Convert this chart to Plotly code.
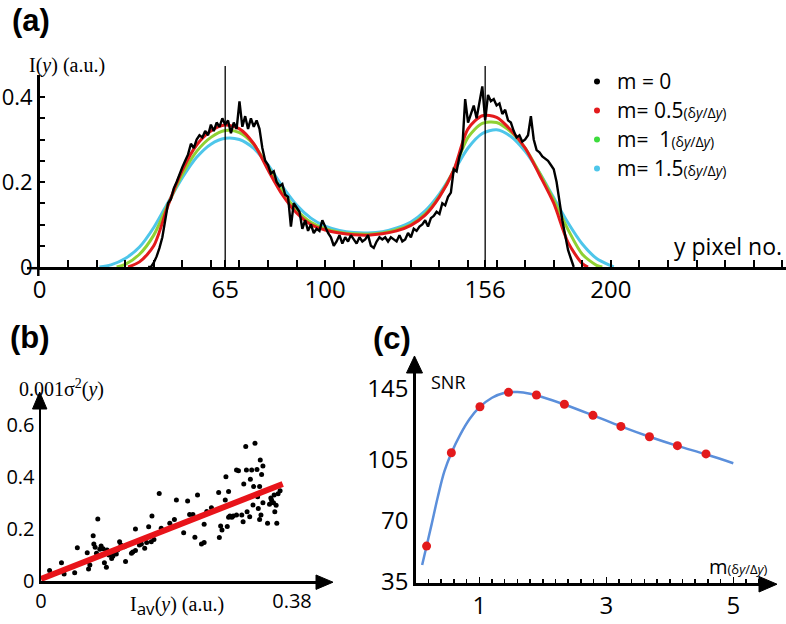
import plotly.graph_objects as go

W, H = 786, 624

# ---------------- panel (a) data ----------------
profile_x = list(range(38, 188))
profile_i = [
    0.0, 0.0, 0.01, 0.025, 0.045, 0.07, 0.11, 0.15, 0.16, 0.185,
    0.2, 0.22, 0.235, 0.25, 0.265, 0.29, 0.28, 0.3, 0.31, 0.305,
    0.32, 0.31, 0.335, 0.32, 0.34, 0.33, 0.35, 0.335, 0.345, 0.315,
    0.34, 0.325, 0.39, 0.33, 0.355, 0.325, 0.35, 0.33, 0.345, 0.325,
    0.28, 0.25, 0.24, 0.22, 0.225, 0.2, 0.19, 0.195, 0.17, 0.165,
    0.095, 0.15, 0.14, 0.13, 0.09, 0.11, 0.085, 0.1, 0.08, 0.09,
    0.085, 0.11, 0.095, 0.08, 0.07, 0.05, 0.06, 0.075, 0.055, 0.07,
    0.06, 0.075, 0.065, 0.055, 0.07, 0.06, 0.065, 0.075, 0.05, 0.045,
    0.06, 0.07, 0.065, 0.07, 0.06, 0.07, 0.065, 0.06, 0.075, 0.06,
    0.065, 0.08, 0.07, 0.09, 0.085, 0.095, 0.1, 0.11, 0.095, 0.115,
    0.12, 0.13, 0.125, 0.15, 0.145, 0.165, 0.175, 0.23, 0.225, 0.26,
    0.28, 0.395, 0.34, 0.36, 0.38, 0.35, 0.385, 0.425, 0.345, 0.405,
    0.39, 0.395, 0.38, 0.385, 0.36, 0.37, 0.345, 0.34, 0.32, 0.305,
    0.31, 0.295, 0.3, 0.31, 0.355, 0.3, 0.275, 0.27, 0.26, 0.255,
    0.25, 0.24, 0.23, 0.2, 0.15, 0.11, 0.075, 0.04, 0.02, 0.0,
]

red_x = [31, 35, 40, 45, 50, 55, 60, 65, 70, 75, 80, 85, 90, 95, 100, 105, 110, 115, 120,
         125, 130, 135, 140, 145, 150, 155, 160, 165, 170, 175, 180, 185, 190, 192]
red_y = [0, 0.012, 0.05, 0.145, 0.228, 0.287, 0.32, 0.334, 0.325, 0.29, 0.228, 0.17, 0.127,
         0.1, 0.087, 0.08, 0.076, 0.075, 0.078, 0.085, 0.098, 0.122, 0.165, 0.228, 0.325,
         0.356, 0.352, 0.322, 0.28, 0.217, 0.15, 0.058, 0.008, 0]

green_x = [27, 30, 35, 40, 45, 50, 55, 60, 65, 70, 75, 80, 85, 90, 95, 100, 105, 110, 115, 120,
           125, 130, 135, 140, 145, 150, 155, 160, 165, 170, 175, 180, 185, 190, 195, 197]
green_y = [0, 0.006, 0.03, 0.075, 0.148, 0.218, 0.272, 0.305, 0.321, 0.316, 0.288, 0.235,
           0.178, 0.134, 0.105, 0.09, 0.082, 0.078, 0.077, 0.08, 0.088, 0.1, 0.125, 0.167,
           0.228, 0.305, 0.338, 0.34, 0.318, 0.28, 0.222, 0.158, 0.088, 0.03, 0.004, 0]

cyan_x = [21, 25, 30, 35, 40, 45, 50, 55, 60, 65, 70, 75, 80, 85, 90, 95, 100, 105, 110, 115,
          120, 125, 130, 135, 140, 145, 150, 155, 160, 165, 170, 175, 180, 185, 190, 195, 200, 201]
cyan_y = [0, 0.005, 0.02, 0.047, 0.093, 0.152, 0.21, 0.258, 0.289, 0.303, 0.3, 0.279, 0.24,
          0.19, 0.146, 0.115, 0.096, 0.086, 0.081, 0.08, 0.083, 0.092, 0.106, 0.132, 0.172,
          0.225, 0.28, 0.314, 0.323, 0.307, 0.272, 0.222, 0.163, 0.104, 0.054, 0.02, 0.003, 0]

a_tick_vals = [0, 65, 100, 156, 200]
a_tick_text = ["0", "65", "100", "156", "200"]
a_ytick_vals = [0, 0.2, 0.4]
a_ytick_text = ["0", "0.2", "0.4"]
peak_positions = [65, 156]

SMALL = "<span style='font-size:14px'>(δ<i>y</i>/Δ<i>y</i>)</span>"
legend_names = [
    "<span style='font-size:21px'>m = 0</span>",
    "<span style='font-size:21px'>m= 0.5</span>" + SMALL,
    "<span style='font-size:21px'>m=\u00a0\u00a01</span>" + SMALL,
    "<span style='font-size:21px'>m= 1.5</span>" + SMALL,
]

# ---------------- panel (b) data ----------------
var_x = [0.013, 0.031, 0.035, 0.051, 0.055, 0.070, 0.071, 0.072, 0.074, 0.079, 0.080, 0.082,
         0.084, 0.086, 0.089, 0.091, 0.094, 0.096, 0.099, 0.100, 0.103, 0.107, 0.109, 0.111,
         0.114, 0.116, 0.119, 0.121, 0.126, 0.128, 0.137, 0.139, 0.143, 0.143, 0.149, 0.152,
         0.157, 0.160, 0.163, 0.167, 0.168, 0.171, 0.179, 0.182, 0.183, 0.195, 0.202, 0.205,
         0.216, 0.222, 0.225, 0.230, 0.233, 0.237, 0.243, 0.247, 0.247, 0.251, 0.258, 0.269,
         0.270, 0.272, 0.274, 0.279, 0.280, 0.282, 0.284, 0.284, 0.286, 0.289, 0.291, 0.296,
         0.296, 0.299, 0.304, 0.306, 0.307, 0.310, 0.311, 0.312, 0.316, 0.317, 0.319, 0.321,
         0.322, 0.324, 0.327, 0.328, 0.329, 0.331, 0.331, 0.332, 0.333, 0.334, 0.336, 0.336,
         0.343, 0.346, 0.348, 0.349, 0.352, 0.353, 0.354, 0.356, 0.357, 0.359, 0.362]
var_y = [0.040, 0.070, 0.027, 0.032, 0.128, 0.109, 0.075, 0.046, 0.062, 0.174, 0.142, 0.130,
         0.107, 0.238, 0.122, 0.135, 0.124, 0.070, 0.053, 0.119, 0.100, 0.087, 0.096, 0.110,
         0.104, 0.119, 0.151, 0.138, 0.132, 0.075, 0.107, 0.112, 0.117, 0.200, 0.138, 0.142,
         0.126, 0.148, 0.209, 0.151, 0.250, 0.160, 0.337, 0.203, 0.190, 0.222, 0.237, 0.312,
         0.186, 0.308, 0.256, 0.256, 0.168, 0.331, 0.142, 0.148, 0.218, 0.267, 0.282, 0.340,
         0.167, 0.212, 0.196, 0.312, 0.401, 0.210, 0.344, 0.245, 0.250, 0.245, 0.250, 0.427,
         0.254, 0.424, 0.254, 0.228, 0.373, 0.517, 0.427, 0.266, 0.247, 0.391, 0.427, 0.292,
         0.363, 0.530, 0.429, 0.324, 0.279, 0.363, 0.237, 0.465, 0.254, 0.410, 0.442, 0.301,
         0.222, 0.295, 0.319, 0.312, 0.301, 0.331, 0.266, 0.291, 0.222, 0.336, 0.347]
fit_x = [0.0, 0.366]
fit_y = [0.008, 0.373]
b_xtick_vals = [0, 0.38]
b_xtick_text = ["0", "0.38"]
b_ytick_vals = [0, 0.2, 0.4, 0.6]
b_ytick_text = ["0", "0.2", "0.4", "0.6"]

# ---------------- panel (c) data ----------------
m_pts = [0.17, 0.56, 1.01, 1.46, 1.90, 2.34, 2.79, 3.23, 3.68, 4.12, 4.57]
snr_pts = [55.5, 108.7, 134.9, 143.1, 141.6, 136.3, 130.0, 123.7, 117.8, 112.7, 108.0]
m_curve = [0.1, 0.17, 0.25, 0.35, 0.45, 0.56, 0.7, 0.85, 1.0, 1.2, 1.4, 1.6, 1.8, 2.0,
           2.34, 2.79, 3.23, 3.68, 4.12, 4.57, 5.0]
snr_curve = [44.7, 55.5, 68, 84, 98, 108.5, 119, 128, 134.5, 140, 142.9, 143.3, 142.3,
             140.3, 136.2, 130, 123.7, 117.8, 112.6, 107.8, 102.7]
c_xtick_vals = [1, 3, 5]
c_ytick_vals = [35, 70, 105, 145]

RED = "#e31a1c"
GREEN = "#8fd133"
CYAN = "#4ec6ea"
BLUE = "#5b8fdb"


def PX(x):
    return x / W


def PY(y):
    return 1 - y / H


fig = go.Figure()

# panel (a)
for xs, ys, col in [(cyan_x, cyan_y, CYAN), (green_x, green_y, GREEN), (red_x, red_y, RED)]:
    fig.add_trace(go.Scatter(x=xs, y=ys, mode="lines",
                             line=dict(color=col, width=3, shape="spline", smoothing=0.8),
                             showlegend=False, xaxis="x", yaxis="y"))
fig.add_trace(go.Scatter(x=profile_x, y=profile_i, mode="lines", line=dict(color="black", width=2.4),
                         showlegend=False, xaxis="x", yaxis="y"))

legend_colors = ["black", RED, "#3ddc3d", CYAN]
for name, col in zip(legend_names, legend_colors):
    fig.add_trace(go.Scatter(x=[None], y=[None], mode="markers", name=name,
                             marker=dict(color=col, size=6), xaxis="x", yaxis="y"))

# panel (b)
fig.add_trace(go.Scatter(x=var_x, y=var_y, mode="markers", marker=dict(color="black", size=5),
                         showlegend=False, xaxis="x2", yaxis="y2"))
fig.add_trace(go.Scatter(x=fit_x, y=fit_y, mode="lines", line=dict(color="#e8141a", width=6),
                         showlegend=False, xaxis="x2", yaxis="y2"))

# panel (c)
fig.add_trace(go.Scatter(x=m_curve, y=snr_curve, mode="lines", line=dict(color=BLUE, width=2.5, shape="spline"),
                         showlegend=False, xaxis="x3", yaxis="y3"))
fig.add_trace(go.Scatter(x=m_pts, y=snr_pts, mode="markers", marker=dict(color=RED, size=9),
                         showlegend=False, xaxis="x3", yaxis="y3", cliponaxis=False))

tickfont_a = dict(family="Open Sans", size=24, color="black")
tickfont_ay = dict(family="Open Sans", size=22, color="black")
tickfont_b = dict(family="Open Sans", size=20, color="black")
common = dict(showgrid=False, zeroline=False, showline=True, linecolor="black", linewidth=2.5,
              automargin=False, fixedrange=True)

fig.update_layout(
    template="none",
    width=W, height=H, margin=dict(l=0, r=0, t=0, b=0, pad=0, autoexpand=False),
    paper_bgcolor="white", plot_bgcolor="white",
    showlegend=True,
    legend=dict(x=PX(577), y=PY(62), xanchor="left", yanchor="top",
                font=dict(family="Open Sans", size=20, color="black"),
                bgcolor="rgba(0,0,0,0)", borderwidth=0, itemsizing="trace", tracegroupgap=0),
    xaxis=dict(domain=[PX(39.5), 1.0], range=[0, 261.3],
               tickmode="array", tickvals=a_tick_vals, ticktext=a_tick_text,
               ticks="inside", ticklen=7, tickwidth=2, tickcolor="black",
               minor=dict(dtick=10, tick0=0, ticks="inside", ticklen=7, tickwidth=2, tickcolor="black"),
               tickfont=tickfont_a, anchor="y", **common),
    yaxis=dict(domain=[PY(267), PY(75)], range=[0, 0.4518],
               tickmode="array", tickvals=a_ytick_vals, ticktext=a_ytick_text,
               ticks="inside", ticklen=5, tickwidth=2, tickcolor="black",
               minor=dict(dtick=0.05, tick0=0, ticks="inside", ticklen=5, tickwidth=2, tickcolor="black"),
               tickfont=tickfont_ay, anchor="x", **common),
    xaxis2=dict(domain=[PX(41), PX(318)], range=[0, 0.4194],
                tickmode="array", tickvals=b_xtick_vals, ticktext=b_xtick_text, ticks="",
                tickfont=tickfont_b, anchor="y2", **common),
    yaxis2=dict(domain=[PY(581), PY(407)], range=[0, 0.6692],
                tickmode="array", tickvals=b_ytick_vals, ticktext=b_ytick_text, ticks="",
                tickfont=tickfont_b, anchor="x2", **common),
    xaxis3=dict(domain=[PX(415.8), PX(760)], range=[0, 5.4205],
                tickmode="array", tickvals=c_xtick_vals, ticks="inside", ticklen=6, tickwidth=1.5,
                tickcolor="black",
                minor=dict(dtick=0.2, tick0=0, ticks="inside", ticklen=4, tickwidth=1.5, tickcolor="black"),
                tickfont=tickfont_a, anchor="y3", **common),
    yaxis3=dict(domain=[PY(583), PY(372)], range=[34.46, 154.69],
                tickmode="array", tickvals=c_ytick_vals, ticks="",
                tickfont=tickfont_a, anchor="x3", **common),
)

shapes = []
for xp in peak_positions:
    shapes.append(dict(type="line", xref="x", yref="paper", x0=xp, x1=xp, y0=PY(267), y1=PY(66),
                       line=dict(color="black", width=1.3)))
shapes.append(dict(type="line", xref="paper", yref="paper", x0=PX(27), x1=PX(40), y0=PY(268.2), y1=PY(268.2),
                   line=dict(color="black", width=2.5)))
shapes.append(dict(type="line", xref="paper", yref="paper", x0=PX(38.3), x1=PX(38.3), y0=PY(268), y1=PY(276),
                   line=dict(color="black", width=2.5)))


def tri(p1, p2, p3):
    return dict(type="path", xref="paper", yref="paper",
                path="M {:.5f},{:.5f} L {:.5f},{:.5f} L {:.5f},{:.5f} Z".format(
                    PX(p1[0]), PY(p1[1]), PX(p2[0]), PY(p2[1]), PX(p3[0]), PY(p3[1])),
                fillcolor="black", line=dict(color="black", width=1))


shapes.append(tri((39.7, 392), (32.5, 409), (46.9, 409)))
shapes.append(tri((333, 582.2), (316, 575), (316, 589.4)))
shapes.append(tri((414.5, 356), (406.5, 373), (422.5, 373)))
shapes.append(tri((777, 584.2), (759, 576.5), (759, 592)))
fig.update_layout(shapes=shapes)

serif = "Liberation Serif"
ann = []


def A(text, x, y, xa="center", ya="middle", size=20, family="Open Sans", color="black"):
    ann.append(dict(text=text, x=PX(x), y=PY(y), xref="paper", yref="paper", xanchor=xa, yanchor=ya,
                    showarrow=False, font=dict(size=size, family=family, color=color)))


A("<b>(a)</b>", 31, 21, size=31, family="Liberation Sans")
A("<b>(b)</b>", 30, 337, size=31, family="Liberation Sans")
A("<b>(c)</b>", 392, 338, size=31, family="Liberation Sans")
A("I(<i>y</i>) (a.u.)", 27, 66, xa="left", size=20, family=serif)
A("y pixel no.", 784, 246, xa="right", size=23)
A("0.001σ<sup>2</sup>(<i>y</i>)", 17, 388, xa="left", size=20, family=serif)
A("I<sub><span style='font-family:Open Sans;font-size:17px'>av</span></sub>(<i>y</i>) (a.u.)", 177, 606,
  size=20, family=serif)
A("SNR", 429, 382, xa="left", size=18)
A("m<span style='font-size:13px'>(δ<i>y</i>/Δ<i>y</i>)</span>", 707, 566, xa="left", size=20)
fig.update_layout(annotations=ann)

fig.write_html("out.html", config={"displayModeBar": False, "staticPlot": True},
               post_script="document.body.style.margin='0px';document.body.style.overflow='hidden';")
